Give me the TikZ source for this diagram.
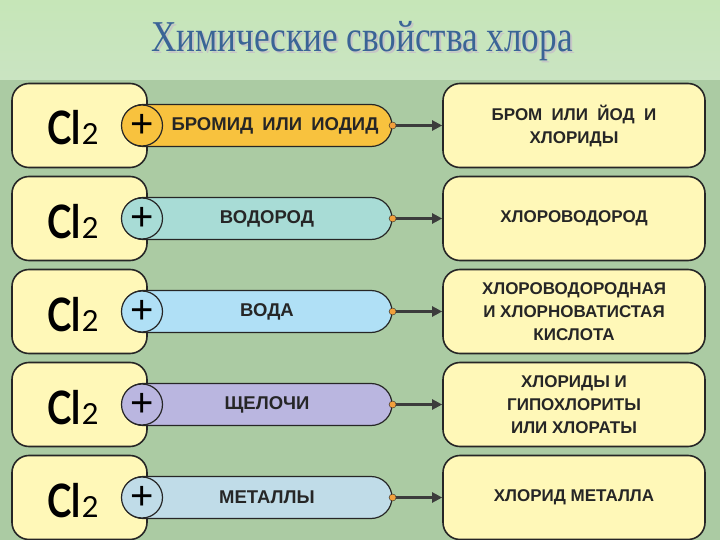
\documentclass[tikz,border=0pt]{standalone}
\usepackage{fontspec}
\setmainfont{Liberation Sans}
\newfontfamily\titlefont{Liberation Serif}
\newfontfamily\clfont{Lato}
\usetikzlibrary{arrows.meta,shapes.misc}
\definecolor{topbg}{HTML}{C6E6B8}
\definecolor{topbgb}{HTML}{CAE4C2}
\definecolor{mainbg}{HTML}{ABCBA3}
\definecolor{boxfill}{HTML}{FFF8B8}
\definecolor{edge}{HTML}{262626}
\definecolor{pillA}{HTML}{F8C23E}
\definecolor{pillB}{HTML}{A8DCD6}
\definecolor{pillC}{HTML}{B0E0F6}
\definecolor{pillD}{HTML}{BAB6E0}
\definecolor{pillE}{HTML}{C0DCE8}
\definecolor{dotc}{HTML}{F2A03C}
\definecolor{titleblue}{HTML}{3A6496}
\newcommand{\titletext}{\scalebox{0.8}[1]{Химические свойства хлора}}
\begin{document}
\begin{tikzpicture}[x=1pt,y=-1pt,
  lbox/.style={draw=edge,line width=1.6pt,fill=boxfill,rounded corners=17pt,minimum width=135pt,minimum height=84pt,inner sep=0pt},
  rbox/.style={draw=edge,line width=1.6pt,fill=boxfill,rounded corners=17pt,minimum width=262pt,minimum height=84pt,inner sep=0pt,align=center,font=\fontsize{17}{23}\selectfont\bfseries,text=edge},
  pill/.style={draw=edge,line width=1.2pt,rounded rectangle,minimum width=270pt,minimum height=42pt,inner sep=0pt},
  plus/.style={draw=edge,line width=1.2pt,circle,minimum size=41pt,inner sep=0pt,font=\fontsize{40}{40}\selectfont},
  ptext/.style={font=\fontsize{18.5}{18.5}\selectfont\bfseries,text=edge},
  cl/.style={anchor=base,font=\clfont\bfseries\fontsize{46}{46}\selectfont,text=black},
  dotn/.style={circle,fill=dotc,draw=edge,line width=0.4pt,minimum size=7pt,inner sep=0pt},
  arr/.style={draw=edge!90,line width=2.2pt,-{Triangle[length=10pt,width=10pt]}}
]
\useasboundingbox (0,0) rectangle (720,540);
\fill[mainbg] (0,0) rectangle (720,540);
\shade[top color=topbg,bottom color=topbgb] (0,0) rectangle (720,80);
% title with shadow
\node (title) at (362,42) {\titlefont\fontsize{44}{44}\selectfont\rlap{\kern2pt\raisebox{-2pt}{\color{gray!45}\titletext}}\textcolor{titleblue}{\titletext}};
% rows
\foreach \i/\y/\pc/\ptxt/\px/\rtxt in {
  1/125.5/pillA/{БРОМИД\hspace{0.5em}ИЛИ\hspace{0.5em}ИОДИД}/275/{БРОМ\hspace{0.55em}ИЛИ\hspace{0.55em}ЙОД\hspace{0.55em}И\\ХЛОРИДЫ},
  2/218.5/pillB/{ВОДОРОД}/267/{ХЛОРОВОДОРОД},
  3/311.5/pillC/{ВОДА}/267/{ХЛОРОВОДОРОДНАЯ\\И ХЛОРНОВАТИСТАЯ\\КИСЛОТА},
  4/404.5/pillD/{ЩЕЛОЧИ}/267/{ХЛОРИДЫ И\\ГИПОХЛОРИТЫ\\ИЛИ ХЛОРАТЫ},
  5/497.5/pillE/{МЕТАЛЛЫ}/267/{ХЛОРИД МЕТАЛЛА}}
{
  \node[lbox] (L\i) at (79.5,\y) {};
  \node[cl] (cl\i) at (73,\y+19.5) {\scalebox{0.8}[1]{Cl}\fontsize{29}{29}\selectfont\mdseries\kern1pt 2};
  \node[pill,fill=\pc] (P\i) at (257,\y) {};
  \node[plus,fill=\pc] (C\i) at (142,\y) {+};
  \node[ptext] (T\i) at (\px,\y) {\ptxt};
  \node[rbox] (R\i) at (574,\y) {\rtxt};
  \node[dotn] (D\i) at (P\i.east) {};
  \draw[arr] (D\i.east) -- (R\i.west);
}
\end{tikzpicture}
\end{document}
